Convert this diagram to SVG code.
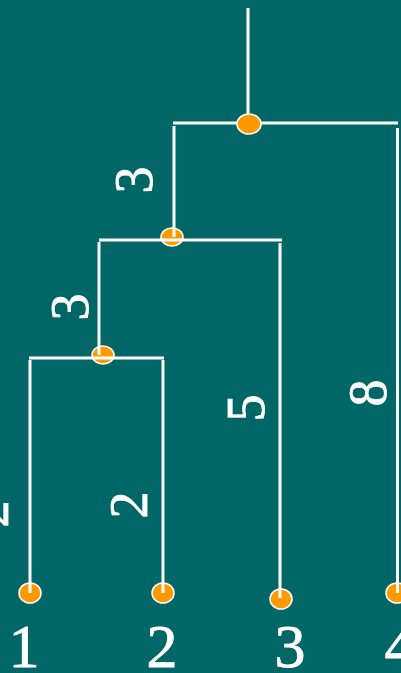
<svg xmlns="http://www.w3.org/2000/svg" width="401" height="673" viewBox="0 0 401 673">
<style>
.ln{stroke:#fff;stroke-width:3;fill:none}
.nd{fill:#ff9900;stroke:#fff;stroke-width:1.5}
.lb{font-family:"Liberation Serif","Times New Roman",serif;fill:#fff;stroke:#fff;stroke-width:0.8;text-anchor:middle}
.rl{font-size:54px}
.bl{font-size:62px}
</style>
<rect width="401" height="673" fill="#006666"/>
<g id="node-2-3-merge"><ellipse class="nd" cx="172" cy="237" rx="11" ry="9"/></g>
<g id="node-1-2-merge"><ellipse class="nd" cx="103" cy="355" rx="11" ry="9"/></g>
<g id="leaf-1"><ellipse class="nd" cx="30" cy="593" rx="11" ry="10"/><text class="lb bl" x="24" y="667">1</text></g>
<g id="leaf-2"><ellipse class="nd" cx="163" cy="593" rx="11" ry="10"/><text class="lb bl" x="162" y="667">2</text></g>
<g id="leaf-3"><ellipse class="nd" cx="281" cy="599" rx="11" ry="10"/><text class="lb bl" x="290" y="667">3</text></g>
<g id="leaf-4"><ellipse class="nd" cx="397" cy="593" rx="11" ry="10"/><text class="lb bl" x="400" y="667">4</text></g>
<g id="connectors">
<path class="ln" d="M248 8V124"/>
<path class="ln" d="M173 123H398"/>
<path class="ln" d="M174 126V237"/>
<path class="ln" d="M397.5 128V593"/>
<path class="ln" d="M99 240H282"/>
<path class="ln" d="M280 243V598"/>
<path class="ln" d="M99 242V355"/>
<path class="ln" d="M29 358H164"/>
<path class="ln" d="M30 360V593"/>
<path class="ln" d="M163 360V593"/>
</g>
<g id="root"><ellipse class="nd" cx="249" cy="124" rx="12" ry="10"/></g>
<g id="distances">
<text class="lb rl" transform="translate(134,180) rotate(-90)" y="18">3</text>
<text class="lb rl" transform="translate(70,307) rotate(-90)" y="18">3</text>
<text class="lb rl" transform="translate(-10,514) rotate(-90)" y="18">2</text>
<text class="lb rl" transform="translate(129,505) rotate(-90)" y="18">2</text>
<text class="lb rl" transform="translate(246,408) rotate(-90)" y="18">5</text>
<text class="lb rl" transform="translate(368,393) rotate(-90)" y="18">8</text>
</g>
</svg>
